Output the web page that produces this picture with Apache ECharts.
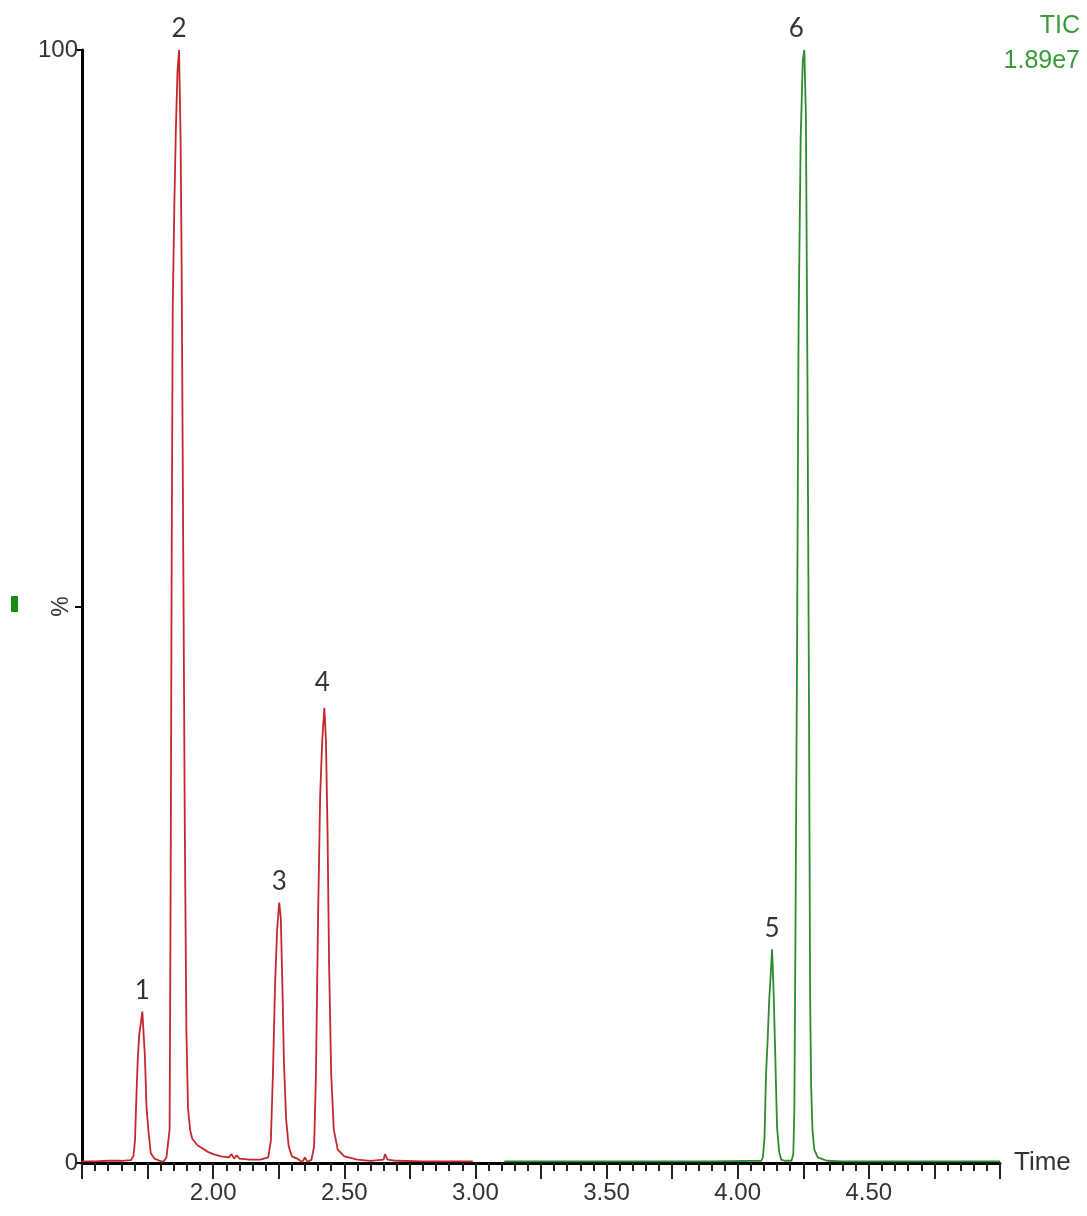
<!DOCTYPE html>
<html>
<head>
<meta charset="utf-8">
<script src="https://cdn.jsdelivr.net/npm/echarts@6/dist/echarts.min.js"></script>
<style>
html,body{margin:0;padding:0;background:#fff;}
#chart{width:1087px;height:1216px;}
</style>
</head>
<body>
<div id="chart"></div>
<script>
// Red trace (time in min, intensity in %)
const redTime = [1.50,1.55,1.60,1.65,1.686,1.696,1.702,1.706,1.712,1.718,1.724,1.730,1.734,1.740,1.746,1.754,1.762,1.776,1.796,1.810,1.822,
  1.828,1.834,1.838,1.842,1.846,1.852,1.858,1.864,1.870,1.876,1.880,1.886,1.892,1.898,1.904,1.912,1.920,1.940,1.960,1.980,2.000,2.030,2.060,2.070,2.080,2.090,2.100,2.140,2.180,2.210,
  2.220,2.228,2.236,2.244,2.252,2.258,2.264,2.270,2.278,2.288,2.300,2.320,2.340,2.350,2.360,2.375,
  2.385,2.392,2.400,2.408,2.416,2.424,2.430,2.436,2.442,2.450,2.460,2.475,2.500,2.550,2.600,2.650,2.655,2.665,2.700,2.800,2.900,2.990];
const redValue = [0.15,0.15,0.2,0.2,0.25,0.6,2,5,9,11.5,12.5,13.6,12,9.5,5,2.7,0.9,0.4,0.2,0.1,0.5,
  0.4,3,25,55,77,86,93,98,100,92,80,55,30,12,5,3,2.2,1.6,1.3,1.0,0.8,0.6,0.5,0.8,0.4,0.7,0.4,0.3,0.3,0.5,
  2,8,16,21,23.4,22,16,9,4,1.5,0.6,0.4,0.1,0.5,0.1,0.3,
  1.5,8,22,33,38,40.9,38,30,18,8,3,1.2,0.6,0.3,0.2,0.3,0.8,0.3,0.2,0.15,0.15,0.15];

// Green trace
const greenTime = [3.11,3.30,3.50,3.70,3.90,4.090,4.096,4.102,4.108,4.114,4.120,4.126,4.131,4.136,4.142,4.150,4.158,4.166,4.180,
  4.205,4.212,4.216,4.220,4.226,4.232,4.240,4.248,4.254,4.260,4.266,4.272,4.276,4.280,4.285,4.292,4.305,4.340,4.400,4.600,4.800,5.000];
const greenValue = [0.15,0.15,0.15,0.15,0.15,0.2,0.5,2.2,8,11,14.6,17,19.2,16,10.8,3.2,1,0.3,0.2,
  0.2,0.8,5,20,45,75,92,99,100,94,70,40,15,6.8,3,1.2,0.5,0.2,0.15,0.15,0.15,0.15];

// Peak annotations
const peakNames = ['1','2','3','4','5','6'];
const peakTimes = [1.730,1.870,2.252,2.424,4.131,4.254];
const peakHeights = [13.6,100,23.4,40.9,19.2,100];

const xTickLabels = ['2.00','2.50','3.00','3.50','4.00','4.50'];
const tracerName = 'TIC';
const tracerScale = '1.89e7';

function zip(a,b){return a.map((v,i)=>[v,b[i]]);}

const chart = echarts.init(document.getElementById('chart'));
const font = 'Liberation Sans, Arial, sans-serif';
chart.setOption({
  animation:false,
  grid:{left:82,right:87,top:50,bottom:53,containLabel:false},
  xAxis:{
    type:'value',min:1.5,max:5.0,interval:0.25,
    name:'Time',nameLocation:'end',nameGap:14,
    nameTextStyle:{color:'#333',fontSize:26,fontFamily:font},
    axisLine:{show:true,lineStyle:{color:'#000',width:3}},
    axisTick:{show:true,length:16,lineStyle:{color:'#222',width:2}},
    minorTick:{show:true,splitNumber:5,length:8,lineStyle:{color:'#222',width:2}},
    splitLine:{show:false},minorSplitLine:{show:false},
    axisLabel:{
      color:'#333',fontSize:24,fontFamily:font,margin:18,
      formatter:function(v){const s=v.toFixed(2);return xTickLabels.indexOf(s)>=0?s:'';}
    }
  },
  yAxis:{
    type:'value',min:0,max:100,interval:50,
    name:'%',nameLocation:'middle',nameRotate:90,nameGap:9,nameMoveOverlap:false,
    nameTextStyle:{color:'#333',fontSize:23,fontFamily:font},
    axisLine:{show:true,lineStyle:{color:'#000',width:3}},
    axisTick:{show:true,length:7,lineStyle:{color:'#000',width:2}},
    splitLine:{show:false},
    axisLabel:{color:'#333',fontSize:24,fontFamily:font,margin:4,
      formatter:function(v){return v===50?'':String(v);}}
  },
  series:[
    {type:'line',data:zip(redTime,redValue),showSymbol:false,symbol:'none',
     lineStyle:{color:'#c3292c',width:1.8},z:3},
    {type:'line',data:zip(greenTime,greenValue),showSymbol:false,symbol:'none',
     lineStyle:{color:'#2e8b2e',width:1.8},z:3},
    {type:'scatter',symbolSize:0,z:5,
     data:peakNames.map((n,i)=>({value:[peakTimes[i],peakHeights[i]],name:n,
        label:{offset: n==='6'?[-8,0]:(n==='4'?[-2,-4]:[0,0])}})),
     label:{show:true,position:'top',distance:8,formatter:'{b}',color:'#000',fontSize:26,fontFamily:'Lato, Open Sans, sans-serif'}
    }
  ],
  graphic:[
    {type:'text',right:7,top:14,style:{text:tracerName,fill:'#3a9a3a',font:'25px '+font,textAlign:'right'}},
    {type:'text',right:7,top:49,style:{text:tracerScale,fill:'#3a9a3a',font:'25px '+font,textAlign:'right'}},
    {type:'rect',shape:{x:11,y:596,width:7,height:16},style:{fill:'#178a17'}}
  ]
});
</script>
</body>
</html>
